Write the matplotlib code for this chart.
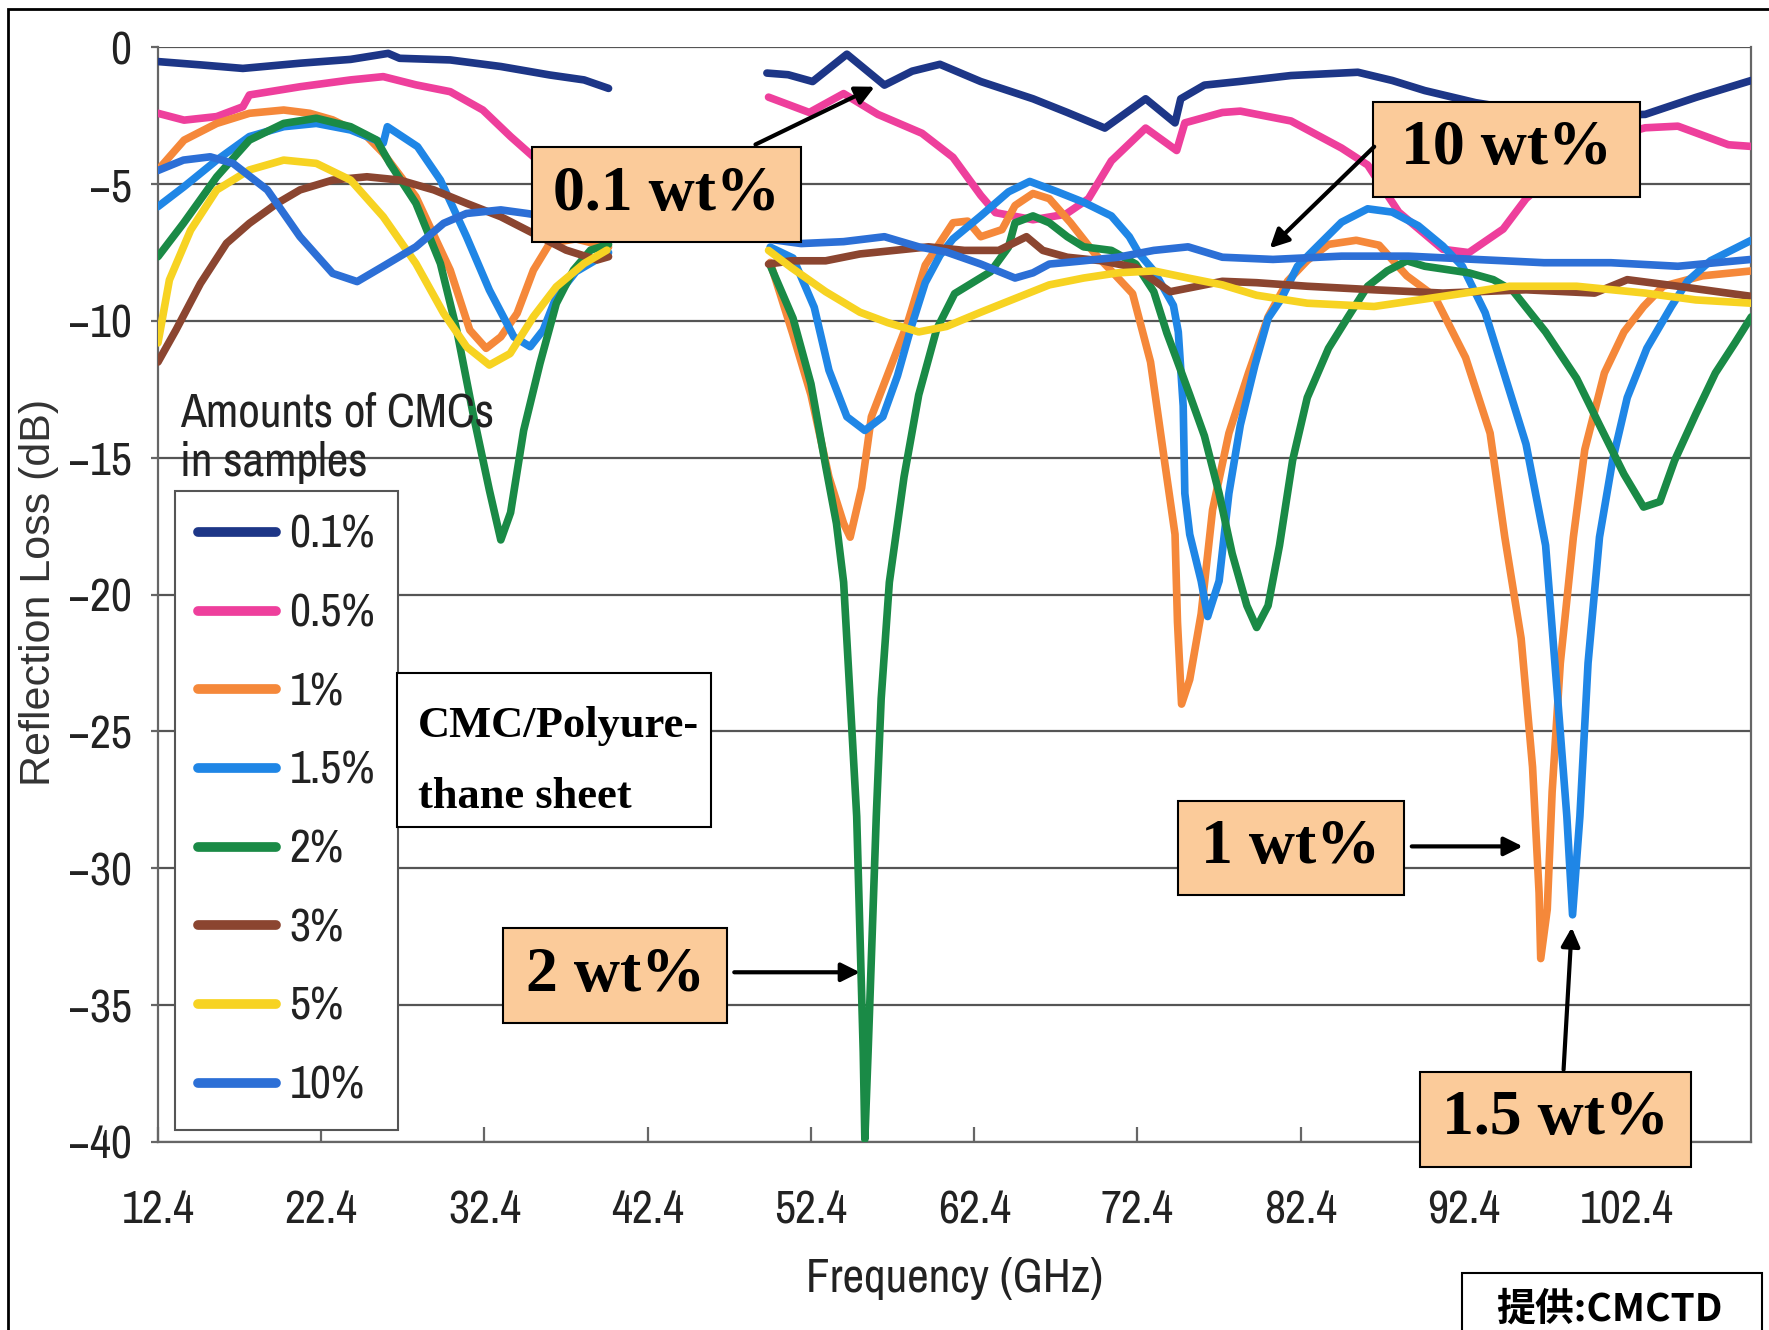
import matplotlib
matplotlib.use("Agg")
import matplotlib.pyplot as plt
from matplotlib import font_manager
from matplotlib.patches import Rectangle
import numpy as np

nan = np.nan

# 反射损耗数据 (GHz, dB)，两段测量之间用 nan 断开
f_01 = [12.4, 15.0, 17.6, 21.1, 24.2, 26.5, 27.2, 30.3, 33.4, 36.4, 38.5, 40.0, nan,
        49.7, 51.0, 52.5, 54.6, 56.9, 58.6, 60.3, 62.8, 66.0, 68.1, 70.4, 72.9, 74.7, 75.05,
        76.5, 78.6, 81.8, 85.9, 88.0, 90.0, 93.1, 96.0, 100.0, 103.5, 106.6, 110.0]
rl_01 = [-0.52, -0.64, -0.77, -0.58, -0.44, -0.22, -0.40, -0.46, -0.70, -1.01, -1.19, -1.50, nan,
         -0.94, -1.00, -1.25, -0.25, -1.38, -0.87, -0.62, -1.25, -1.88, -2.38, -2.95, -1.88, -2.76, -1.88,
         -1.38, -1.25, -1.03, -0.91, -1.21, -1.58, -2.02, -2.30, -2.50, -2.45, -1.83, -1.21]

f_05 = [12.4, 14.0, 16.0, 17.6, 18.0, 21.1, 24.2, 26.2, 28.2, 30.3, 32.3, 34.0, 35.4, 38.0, 40.0, nan,
        49.8, 52.3, 54.4, 56.5, 59.2, 61.1, 62.8, 63.7, 66.0, 68.0, 69.4, 70.8, 72.9, 74.8, 75.3,
        77.6, 78.7, 81.8, 84.9, 86.5, 88.4, 91.1, 92.7, 94.8, 96.2, 100.0, 103.5, 105.5, 108.6, 110.0]
rl_05 = [-2.41, -2.66, -2.53, -2.17, -1.74, -1.44, -1.19, -1.07, -1.37, -1.62, -2.29, -3.26, -4.00, -4.80, -5.30, nan,
         -1.82, -2.38, -1.69, -2.45, -3.14, -4.02, -5.41, -6.04, -6.30, -6.10, -5.53, -4.15, -2.95, -3.77, -2.76,
         -2.38, -2.33, -2.69, -3.68, -4.30, -6.02, -7.38, -7.50, -6.64, -5.53, -3.50, -2.94, -2.88, -3.56, -3.62]

f_1 = [12.4, 14.0, 16.0, 18.0, 20.1, 21.7, 23.1, 25.2, 26.2, 28.2, 30.3, 31.5, 32.5, 33.4, 34.4, 35.4, 36.4, 38.0, 40.0, nan,
       49.9, 51.3, 52.4, 53.5, 54.4, 54.8, 55.5, 56.1, 57.2, 58.3, 59.4, 61.1, 62.0, 62.8, 64.1, 64.9, 66.0, 67.0,
       68.3, 69.8, 70.8, 72.1, 73.2, 74.1, 74.7, 74.85, 75.1, 75.6, 76.3, 77.0, 78.0, 79.2, 80.4, 81.6, 82.8, 84.1,
       85.8, 87.2, 88.9, 90.6, 92.5, 94.0, 94.9, 95.9, 96.6, 97.0, 97.1, 97.5, 97.8, 98.3, 99.1, 99.8, 101.0,
       102.2, 103.4, 104.6, 107.0, 110.0]
rl_1 = [-4.48, -3.39, -2.78, -2.41, -2.29, -2.41, -2.65, -3.26, -3.87, -5.46, -8.14, -10.33, -11.0, -10.58, -9.72, -8.14, -7.16, -7.0, -7.3, nan,
        -7.86, -10.5, -12.7, -15.7, -17.4, -17.9, -16.1, -13.5, -11.8, -10.1, -7.96, -6.41, -6.35, -6.92, -6.66, -5.78, -5.34, -5.53,
        -6.41, -7.55, -8.17, -9.0, -11.5, -15.3, -17.8, -21.0, -24.0, -23.1, -20.7, -16.9, -14.1, -11.9, -9.85, -8.54, -7.79, -7.2,
        -7.05, -7.23, -8.35, -9.1, -11.34, -14.1, -17.9, -21.6, -26.3, -30.9, -33.3, -31.5, -27.2, -22.5, -17.9, -14.7, -11.9,
        -10.4, -9.47, -8.73, -8.35, -8.17]

f_15 = [12.4, 14.0, 16.0, 18.0, 20.1, 22.1, 24.2, 26.2, 26.45, 28.3, 29.7, 31.3, 32.7, 34.2, 35.2, 36.0, 36.8, 38.0, 40.0, nan,
        49.9, 51.3, 52.6, 53.5, 54.6, 55.7, 56.8, 57.7, 58.5, 59.4, 60.3, 61.1, 62.8, 64.5, 65.8, 67.5, 69.1, 70.8,
        71.9, 72.5, 73.4, 74.6, 74.9, 75.2, 75.3, 75.6, 76.3, 76.7, 77.4, 78.0, 78.7, 79.6, 80.4, 81.2, 82.2, 83.2,
        84.9, 86.5, 88.0, 89.6, 91.1, 92.3, 93.7, 94.9, 96.2, 97.4, 98.1, 98.7, 99.05, 99.5, 100.0, 100.7, 101.5,
        102.4, 103.6, 105.1, 106.1, 107.5, 110.0]
rl_15 = [-5.82, -5.09, -4.12, -3.26, -2.9, -2.78, -3.02, -3.5, -2.9, -3.63, -4.85, -6.92, -8.87, -10.58, -10.94, -10.33, -9.11, -8.2, -7.5, nan,
         -7.3, -7.7, -9.5, -11.8, -13.5, -14.0, -13.5, -12.0, -10.3, -8.6, -7.6, -7.0, -6.16, -5.28, -4.9, -5.28, -5.66, -6.16,
         -6.92, -7.54, -8.17, -9.43, -10.4, -13.1, -16.3, -17.8, -19.5, -20.8, -19.5, -16.3, -13.8, -11.6, -9.9, -9.2, -8.0, -7.4,
         -6.39, -5.9, -6.02, -6.52, -7.26, -8.0, -9.7, -12.0, -14.5, -18.2, -23.5, -28.1, -31.7, -28.1, -22.5, -17.9, -15.1,
         -12.8, -11.0, -9.47, -8.54, -7.8, -7.05]

f_2 = [12.4, 13.96, 16.0, 18.0, 20.1, 22.1, 24.2, 25.8, 26.6, 28.2, 29.7, 30.7, 31.7, 32.7, 33.4, 34.0, 34.8, 35.8, 36.8, 37.85, 38.9, 40.0, nan,
       49.9, 51.3, 52.4, 53.3, 53.96, 54.4, 54.8, 55.2, 55.4, 55.6, 55.7, 55.9, 56.15, 56.4, 56.7, 57.2, 58.1, 59.0,
       60.1, 61.2, 62.3, 63.4, 64.5, 64.9, 66.0, 67.0, 68.1, 69.1, 70.8, 72.3, 73.4, 74.2, 74.8, 75.6, 76.5, 77.4,
       78.2, 79.1, 79.7, 80.4, 81.1, 81.9, 82.8, 84.1, 85.3, 86.5, 87.7, 88.9, 90.0, 92.7, 94.2, 95.4, 97.4, 99.3,
       100.7, 102.2, 103.4, 104.4, 105.3, 106.6, 107.8, 109.0, 110.0]
rl_2 = [-7.65, -6.43, -4.73, -3.39, -2.78, -2.59, -2.9, -3.39, -4.24, -5.7, -7.9, -10.33, -13.38, -16.18, -18.0, -17.0, -14.0, -11.55, -9.36, -8.14, -7.41, -7.2, nan,
        -7.96, -9.9, -12.3, -15.3, -17.4, -19.55, -23.8, -28.1, -32.4, -36.7, -39.9, -36.7, -32.4, -28.1, -23.8, -19.55, -15.7, -12.7,
        -10.3, -9.0, -8.6, -8.2, -7.3, -6.41, -6.16, -6.41, -6.92, -7.29, -7.42, -7.92, -8.93, -10.44, -11.4, -12.7, -14.2, -16.3,
        -18.5, -20.4, -21.2, -20.4, -18.2, -15.1, -12.8, -11.0, -9.85, -8.73, -8.17, -7.8, -8.0, -8.24, -8.49, -8.9, -10.4, -12.1,
        -13.8, -15.6, -16.8, -16.6, -15.1, -13.4, -11.9, -10.8, -9.85]

f_3 = [12.4, 13.5, 15.0, 16.6, 18.0, 19.7, 21.1, 23.1, 25.2, 27.2, 29.3, 31.3, 33.4, 35.4, 37.4, 39.3, 40.0, nan,
       49.8, 51.2, 53.3, 55.4, 57.5, 59.6, 61.8, 63.9, 65.6, 66.6, 68.1, 70.2, 72.3, 74.4, 75.5, 77.6, 79.7,
       82.8, 86.9, 91.1, 96.2, 100.4, 102.4, 105.5, 110.0]
rl_3 = [-11.5, -10.33, -8.63, -7.16, -6.43, -5.7, -5.21, -4.85, -4.73, -4.85, -5.21, -5.7, -6.19, -6.8, -7.41, -7.77, -7.65, nan,
        -7.92, -7.8, -7.8, -7.55, -7.42, -7.29, -7.42, -7.42, -6.92, -7.42, -7.67, -7.8, -8.05, -8.93, -8.8, -8.55, -8.6,
        -8.73, -8.86, -8.98, -8.86, -8.98, -8.49, -8.73, -9.1]

f_5 = [12.4, 13.1, 14.4, 16.0, 18.0, 20.1, 22.1, 24.2, 26.2, 28.2, 29.9, 31.3, 32.7, 33.97, 35.4, 36.8, 38.5, 39.9, nan,
       49.8, 51.2, 53.3, 55.4, 57.1, 59.0, 60.7, 62.8, 64.9, 67.0, 69.1, 71.2, 73.4, 75.5, 77.6, 79.7, 82.8,
       86.9, 91.1, 95.2, 99.3, 103.5, 106.6, 110.0]
rl_5 = [-10.8, -8.5, -6.68, -5.21, -4.48, -4.12, -4.24, -4.85, -6.19, -7.9, -9.72, -10.94, -11.61, -11.19, -9.84, -8.75, -7.9, -7.41, nan,
        -7.42, -8.05, -8.93, -9.68, -10.06, -10.4, -10.2, -9.68, -9.18, -8.68, -8.43, -8.24, -8.17, -8.43, -8.68, -9.06, -9.35,
        -9.47, -9.1, -8.73, -8.73, -8.98, -9.23, -9.35]

f_10 = [12.4, 13.96, 15.6, 17.0, 19.1, 21.1, 23.1, 24.6, 26.2, 28.2, 29.9, 31.3, 33.4, 35.0, 37.5, 40.0, nan,
        49.7, 51.8, 54.4, 56.9, 59.0, 60.7, 62.8, 64.9, 66.0, 67.0, 69.1, 71.2, 73.4, 75.5, 77.6, 80.7, 84.9,
        89.0, 93.1, 97.3, 101.4, 105.5, 110.0]
rl_10 = [-4.5, -4.12, -4.0, -4.24, -5.21, -6.92, -8.26, -8.56, -8.0, -7.29, -6.43, -6.07, -5.94, -6.07, -6.3, -6.6, nan,
         -7.0, -7.17, -7.1, -6.92, -7.29, -7.48, -7.92, -8.43, -8.24, -7.92, -7.8, -7.67, -7.42, -7.29, -7.67, -7.75, -7.63,
         -7.63, -7.75, -7.87, -7.87, -8.0, -7.75]

labels = ['0.1%', '0.5%', '1%', '1.5%', '2%', '3%', '5%', '10%']
colors = ['#1d3687', '#ee3f9c', '#f5883a', '#1f86e6', '#1a8a46', '#8b4530', '#f7d322', '#2c6fd6']
freqs = [f_01, f_05, f_1, f_15, f_2, f_3, f_5, f_10]
losses = [rl_01, rl_05, rl_1, rl_15, rl_2, rl_3, rl_5, rl_10]

# 找一个窄体字体，没有的话用 Liberation Sans 并缩小字号
ttf = font_manager.fontManager.ttflist
cond_family, cond_stretch, k = 'Liberation Sans', 'normal', 0.85
for f in ttf:
    if ('Narrow' in f.name or 'Condensed' in f.name) and f.weight in (400, 'normal', 'regular'):
        cond_family, cond_stretch, k = f.name, 'normal', 1.0
        break
else:
    for f in ttf:
        if f.stretch in ('condensed', 'semi-condensed') and f.weight in (400, 'normal', 'regular'):
            cond_family, cond_stretch, k = f.name, f.stretch, 1.0
            break
serif = 'Liberation Serif'


def cfont(size):
    return font_manager.FontProperties(family=cond_family, stretch=cond_stretch, size=size * k)


fig = plt.figure(figsize=(17.69, 13.30), dpi=100)
ax = fig.add_axes([0.0893, 0.1414, 0.9007, 0.823])

lines = []
for fr, rl, c, lab in zip(freqs, losses, colors, labels):
    l, = ax.plot(fr, rl, color=c, lw=5.5, label=lab, solid_joinstyle='round', solid_capstyle='round', zorder=3)
    lines.append(l)

ax.set_xlim(12.4, 110)
ax.set_ylim(-40, 0)
ax.set_xticks(np.arange(12.4, 110, 10))
ax.set_xticklabels(['12.4', '22.4', '32.4', '42.4', '52.4', '62.4', '72.4', '82.4', '92.4', '102.4'])
ax.set_yticks(np.arange(-40, 1, 5))
ax.yaxis.grid(True, color='#555555', lw=1.6, zorder=1)
ax.set_axisbelow(True)
for s in ax.spines.values():
    s.set_color('#666666')
    s.set_linewidth(1.6)
ax.spines['top'].set_visible(False)
ax.tick_params(axis='x', direction='in', length=11, width=1.6, color='#666666', pad=34, labelcolor='#222222')
ax.tick_params(axis='y', direction='out', length=5, width=1.6, color='#666666', pad=14, labelcolor='#222222')
for t in ax.get_xticklabels() + ax.get_yticklabels():
    t.set_fontproperties(cfont(33))

fig.text(0.0222, 0.5545, 'Reflection Loss (dB)', rotation=90, ha='center', va='center',
         fontsize=31, color='#333333', family='Liberation Sans')
fig.text(0.5395, 0.039, 'Frequency (GHz)', ha='center', va='center',
         fontproperties=cfont(34), color='#222222')

# 图例
leg = ax.legend(handles=lines, loc='upper left', bbox_to_anchor=(0.0989, 0.6308),
                bbox_transform=fig.transFigure, borderaxespad=0, fancybox=False,
                edgecolor='#555555', framealpha=1, prop=cfont(33),
                handlelength=1.7, handletextpad=0.3, labelspacing=0.80, borderpad=0.5)
leg.get_frame().set_linewidth(1.5)
for lh in leg.get_lines():
    lh.set_linewidth(7)
for t in leg.get_texts():
    t.set_color('#222222')
fig.text(0.1018, 0.6707, 'Amounts of CMCs\nin samples', ha='left', va='center',
         fontproperties=cfont(34), linespacing=1.2, color='#222222', zorder=5)

# 标注框
peach = '#fbcb9a'
boxes = [
    ('0.1 wt%', 35.3, -7.13, 16.5, 3.5),
    ('10 wt%', 86.8, -5.48, 16.4, 3.5),
    ('2 wt%', 33.55, -35.67, 13.7, 3.47),
    ('1 wt%', 74.9, -30.97, 13.8, 3.42),
    ('1.5 wt%', 89.7, -40.9, 16.6, 3.46),
]
for txt, x0, y0, w, h in boxes:
    ax.add_patch(Rectangle((x0, y0), w, h, facecolor=peach, edgecolor='black', lw=1.5,
                           clip_on=False, zorder=6))
    ax.text(x0 + w / 2, y0 + h / 2, txt, ha='center', va='center', fontsize=46,
            fontweight='bold', family=serif, zorder=7, clip_on=False)

arrows = [
    ((56.3, -1.44), (49.0, -3.55)),
    ((80.5, -7.34), (86.9, -3.63)),
    ((55.4, -33.8), (47.7, -33.8)),
    ((96.0, -29.2), (89.2, -29.2)),
    ((99.0, -32.16), (98.5, -37.36)),
]
for head, tail in arrows:
    ax.annotate('', xy=head, xytext=tail, zorder=8,
                arrowprops=dict(arrowstyle='-|>', lw=3, color='black', mutation_scale=28,
                                shrinkA=0, shrinkB=0))

ax.add_patch(Rectangle((27.05, -28.5), 19.25, 5.65, facecolor='white', edgecolor='black', lw=1.5,
                       clip_on=False, zorder=6))
ax.text(28.3, -26.1, 'CMC/Polyure-\nthane sheet', ha='left', va='center', fontsize=32,
        fontweight='bold', family=serif, linespacing=2.0, zorder=7)

# 右下角来源
fig.patches.append(Rectangle((0.8265, -0.05), 0.1696, 0.0929, transform=fig.transFigure,
                             facecolor='white', edgecolor='black', lw=1.5, zorder=6))
fig.text(0.8457, 0.0158, '提供:CMCTD', ha='left', va='center', fontsize=28, fontweight='bold',
         family=['Noto Sans CJK SC', 'DejaVu Sans'], zorder=7)

# 外框
fig.patches.append(Rectangle((0.0045, -0.1), 1.2, 1.0932, transform=fig.transFigure,
                             fill=False, edgecolor='black', lw=2))

fig.savefig('out.png', dpi=100)
